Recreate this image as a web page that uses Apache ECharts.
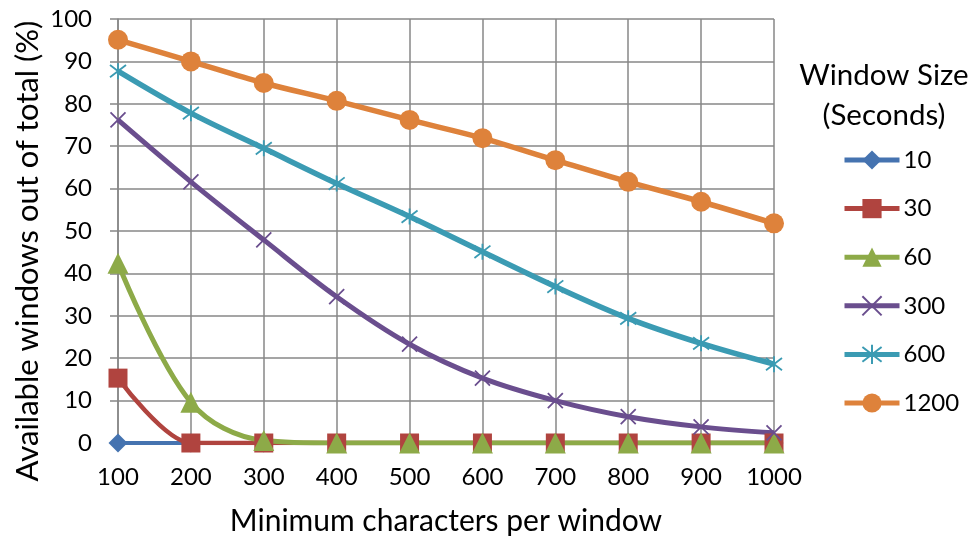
<!DOCTYPE html>
<html>
<head>
<meta charset="utf-8">
<script src="https://cdn.jsdelivr.net/npm/echarts@6/dist/echarts.min.js"></script>
<style>
  html, body { margin: 0; padding: 0; background: #fff; }
  #chart { width: 970px; height: 537px; }
</style>
</head>
<body>
<div id="chart"></div>
<script>
// Minimum characters per window (x axis categories)
const categories = ['100', '200', '300', '400', '500', '600', '700', '800', '900', '1000'];

// Share of windows available (%) for each window size in seconds
const win10   = [0, 0, 0, 0, 0, 0, 0, 0, 0, 0];
const win30   = [15.3, 0, 0, 0, 0, 0, 0, 0, 0, 0];
const win60   = [42.4, 9.6, 0.6, 0, 0, 0, 0, 0, 0, 0];
const win300  = [76.2, 61.6, 47.9, 34.5, 23.3, 15.3, 10.0, 6.2, 3.8, 2.4];
const win600  = [87.7, 77.8, 69.5, 61.2, 53.4, 45.1, 36.9, 29.4, 23.5, 18.6];
const win1200 = [95.1, 90.0, 84.9, 80.7, 76.2, 71.9, 66.7, 61.6, 56.9, 51.8];

const seriesNames = ['10', '30', '60', '300', '600', '1200'];
const yTicks = { min: 0, max: 100, interval: 10 };

const FONT = 'Lato, "Open Sans", sans-serif';
const GRID_GRAY = '#878787';

const xMark = 'path://M0,0L10,10M10,0L0,10';
const starMark = 'path://M0,0L10,10M10,0L0,10M5,-1.5L5,11.5';

function makeSeries(name, data, color, symbol, size, width, smooth) {
  return {
    name: name,
    type: 'line',
    data: data,
    smooth: smooth,
    symbol: symbol,
    symbolSize: size,
    showAllSymbol: true,
    lineStyle: { color: color, width: width },
    itemStyle: { color: color, borderColor: color, borderWidth: (symbol.indexOf('path://') === 0 ? 1.8 : 0) },
    emphasis: { disabled: true },
    z: 2
  };
}

const chart = echarts.init(document.getElementById('chart'), null, { renderer: 'canvas' });

chart.setOption({
  animation: false,
  backgroundColor: '#ffffff',
  title: {
    text: 'Window Size\n(Seconds)',
    left: 879,
    top: 50,
    textAlign: 'center',
    textStyle: { fontFamily: FONT, fontSize: 29.5, fontWeight: 'normal', color: '#000', lineHeight: 40 }
  },
  graphic: [{
    type: 'text',
    x: 28,
    y: 251,
    rotation: Math.PI / 2,
    style: {
      text: 'Available windows out of total (%)',
      fontFamily: FONT,
      fontSize: 31,
      fill: '#000',
      align: 'center',
      verticalAlign: 'middle'
    }
  }],
  legend: {
    orient: 'vertical',
    left: 842,
    top: 148,
    padding: 0,
    itemWidth: 55,
    itemHeight: 24,
    itemGap: 24.6,
    data: seriesNames,
    lineStyle: { width: 5 },
    textStyle: { fontFamily: FONT, fontSize: 24, color: '#000', padding: [0, 0, 0, -1] },
    selectedMode: false
  },
  grid: { left: 118, right: 196, top: 19, bottom: 94, containLabel: false, outerBoundsMode: 'none' },
  xAxis: {
    type: 'category',
    data: categories,
    boundaryGap: false,
    name: 'Minimum characters per window',
    nameLocation: 'middle',
    nameGap: 63,
    nameTextStyle: { fontFamily: FONT, fontSize: 30, color: '#000' },
    axisLine: { lineStyle: { color: GRID_GRAY, width: 1.5 } },
    axisTick: { show: true, alignWithLabel: true, length: 8, lineStyle: { color: GRID_GRAY, width: 1.5 } },
    axisLabel: { fontFamily: FONT, fontSize: 24, color: '#000', margin: 22 },
    splitLine: { show: true, lineStyle: { color: GRID_GRAY, width: 1.5 } }
  },
  yAxis: {
    type: 'value',
    min: yTicks.min,
    max: yTicks.max,
    interval: yTicks.interval,
    axisLine: { show: true, lineStyle: { color: GRID_GRAY, width: 1.5 } },
    axisTick: { show: true, length: 8, lineStyle: { color: GRID_GRAY, width: 1.5 } },
    axisLabel: { fontFamily: FONT, fontSize: 24, color: '#000', margin: 26 },
    splitLine: { show: true, lineStyle: { color: GRID_GRAY, width: 1.5 } }
  },
  series: [
    makeSeries('10', win10, '#4573B0', 'diamond', 19, 4, 0.3),
    makeSeries('30', win30, '#B0443F', 'rect', 19, 4.5, 0.3),
    makeSeries('60', win60, '#8DAA48', 'triangle', 21, 5, 0.35),
    makeSeries('300', win300, '#6A4E8E', xMark, 15, 5, 0.35),
    makeSeries('600', win600, '#3B9BB3', starMark, 16, 5.5, 0.35),
    makeSeries('1200', win1200, '#DE823B', 'circle', 20, 5.5, 0.35)
  ]
});
</script>
</body>
</html>
